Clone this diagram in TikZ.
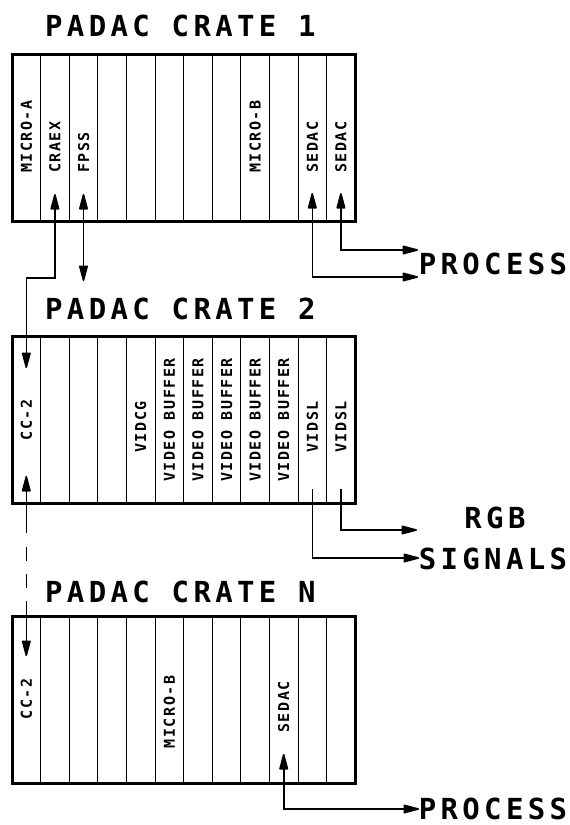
\documentclass[tikz,border=0pt]{standalone}
\usepackage{fontspec}
\newfontfamily\draftfont[LetterSpace=15]{DejaVu Sans Mono Bold}
\newfontfamily\cardfont[LetterSpace=10]{DejaVu Sans Mono Bold}
\usetikzlibrary{arrows.meta}

\begin{document}
\begin{tikzpicture}[x=1pt, y=-1pt,
  >={Triangle[length=18pt,width=9pt,round]},
  crate/.style={line width=3pt},
  slotline/.style={line width=1pt},
  conn/.style={line width=1.6pt},
  title/.style={font=\draftfont\fontsize{29}{29}\selectfont, inner sep=0pt, text height=21pt, text depth=0pt},
  card/.style={font=\cardfont\fontsize{15}{15}\selectfont, rotate=90, inner sep=0pt, text height=11pt, text depth=0pt}]
\useasboundingbox (0,0) rectangle (570,825);
\def\slotw{28.6}
\def\crateL{12}
\def\crateH{167}
\pgfmathsetmacro{\crateR}{\crateL+12*\slotw}

% the three crates with their slots
\foreach \top in {54,336,616} {
  \draw[crate] (\crateL,\top) rectangle (\crateR,\top+\crateH);
  \foreach \i in {1,...,11} {
    \draw[slotline] ({\crateL+\i*\slotw},\top) -- ({\crateL+\i*\slotw},\top+\crateH);
  }
}

\node[title, anchor=west] (title-one) at (45,26) {PADAC CRATE 1};
\node[title, anchor=west] (title-two) at (45,309) {PADAC CRATE 2};
\node[title, anchor=west] (title-last) at (45,592) {PADAC CRATE N};

% cards
\foreach \s/\txt in {1/MICRO-A, 2/CRAEX, 3/FPSS, 9/MICRO-B, 11/SEDAC, 12/SEDAC} {
  \node[card, anchor=west] (one-\s) at ({\crateL+(\s-0.5)*\slotw},173) {\txt};
}
\foreach \s/\txt/\y in {1/CC-2/420, 5/VIDCG/427, 6/VIDEO BUFFER/420, 7/VIDEO BUFFER/420,
    8/VIDEO BUFFER/420, 9/VIDEO BUFFER/420, 10/VIDEO BUFFER/420, 11/VIDSL/427, 12/VIDSL/427} {
  \node[card] (two-\s) at ({\crateL+(\s-0.5)*\slotw},\y) {\txt};
}
\foreach \s/\txt/\y in {1/CC-2/699, 6/MICRO-B/712, 10/SEDAC/707} {
  \node[card] (last-\s) at ({\crateL+(\s-0.5)*\slotw},\y) {\txt};
}

% outputs
\node[title] (proc-one) at (493,263.5) {PROCESS};
\node[title] (rgb) at (495,518) {RGB};
\node[title] (signals) at (493,559) {SIGNALS};
\node[title] (proc-last) at (493,809) {PROCESS};

% connector ends
\coordinate (craex-in) at (54.9,194);
\coordinate (fpss-in) at (83.5,194);
\coordinate (fpss-out) at (83.5,281);
\coordinate (cc2-down) at (26.3,368);
\coordinate (sedac-a) at (312.3,193);
\coordinate (sedac-b) at (340.9,193);
\coordinate (proc-a) at (418,277);
\coordinate (proc-b) at (418,250);
\coordinate (vidsl-a) at (312.3,489);
\coordinate (vidsl-b) at (340.9,489);
\coordinate (sig-a) at (419,558);
\coordinate (sig-b) at (417,530);
\coordinate (cc2-up) at (26.3,476);
\coordinate (link-a) at (26.3,533);
\coordinate (link-b) at (26.3,547);
\coordinate (link-c) at (26.3,617);
\coordinate (ccN-in) at (26.3,656);
\coordinate (sedac-n) at (283.7,754);
\coordinate (proc-n) at (419,809);

\draw[conn, <->] (craex-in) -- ++(0,84) -| (cc2-down);
\draw[conn, <->] (fpss-in) -- (fpss-out);
\draw[conn, <->] (sedac-a) |- (proc-a);
\draw[conn, <->] (sedac-b) |- (proc-b);
\draw[conn, ->] (vidsl-a) |- (sig-a);
\draw[conn, ->] (vidsl-b) |- (sig-b);
\draw[conn, <-] (cc2-up) -- (link-a);
\draw[conn, dash pattern=on 14pt off 13pt] (link-b) -- (link-c);
\draw[conn, ->] (link-c) -- (ccN-in);
\draw[conn, <->] (sedac-n) |- (proc-n);
\end{tikzpicture}
\end{document}
